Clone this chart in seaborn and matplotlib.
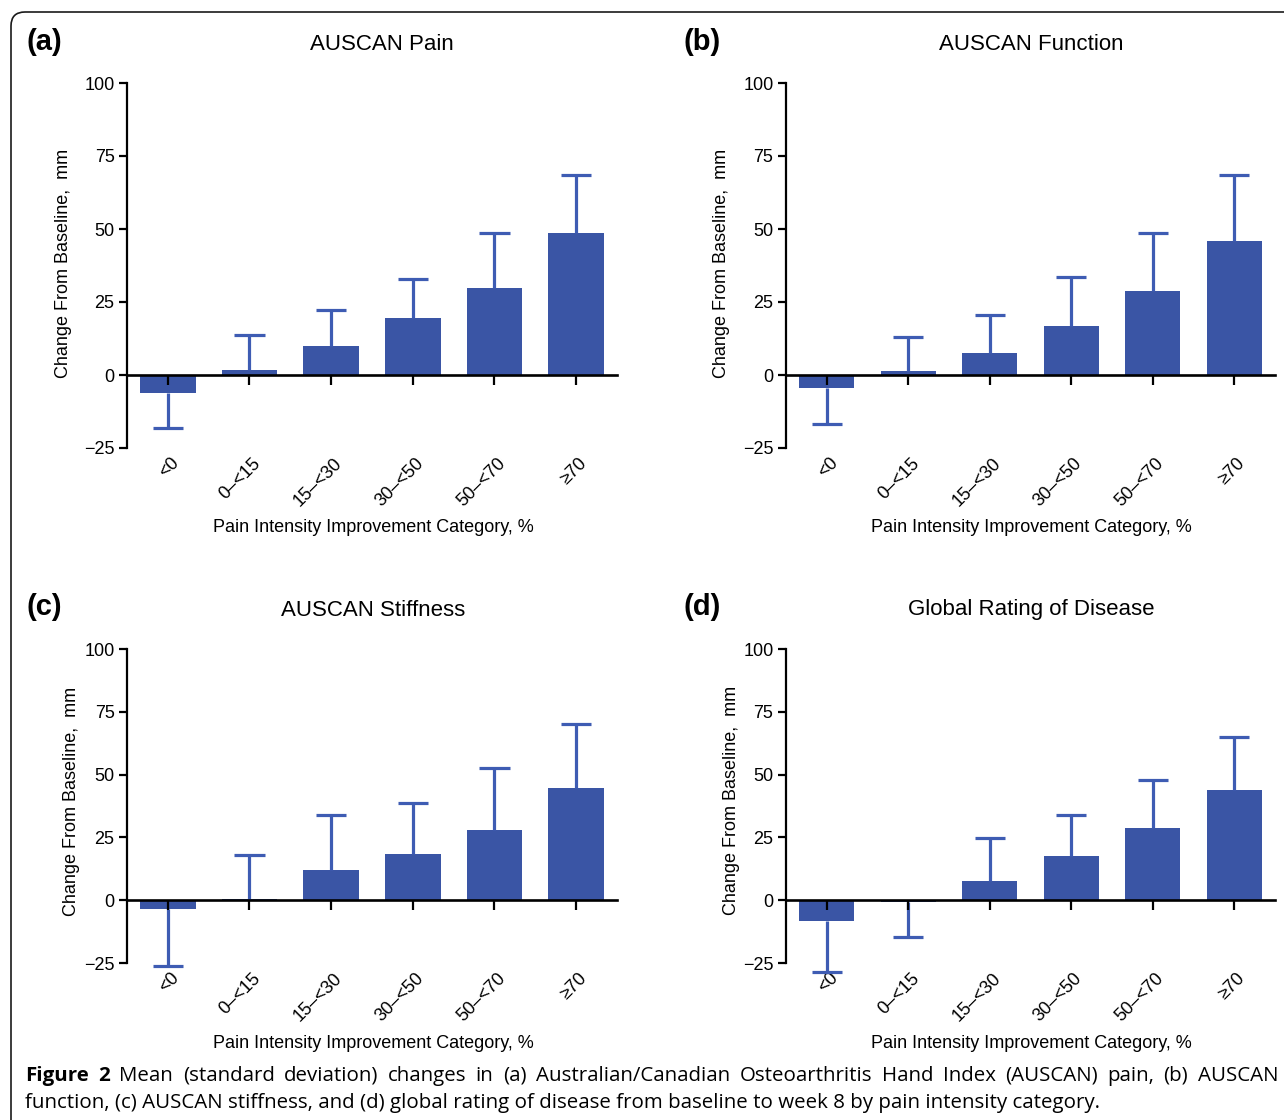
import numpy as np
import pandas as pd
import matplotlib
matplotlib.use("Agg")
import matplotlib.pyplot as plt
import seaborn as sns
from matplotlib.patches import FancyBboxPatch
from matplotlib import font_manager

# ---------------- data ----------------
categories = ["<0", "0\u2013<15", "15\u2013<30", "30\u2013<50", "50\u2013<70", "\u226570"]

pain_mean = [-6.0, 1.6, 9.8, 19.4, 29.7, 48.5]
pain_sd = [12.3, 12.0, 12.3, 13.6, 19.1, 19.9]

function_mean = [-4.3, 1.5, 7.6, 16.8, 28.8, 46.0]
function_sd = [12.6, 11.6, 13.1, 16.6, 19.7, 22.6]

stiffness_mean = [-3.5, 0.6, 12.0, 18.2, 28.1, 44.8]
stiffness_sd = [22.5, 17.3, 21.8, 20.6, 24.6, 25.3]

global_mean = [-8.4, -0.8, 7.7, 17.5, 28.9, 44.0]
global_sd = [20.0, 14.0, 17.0, 16.4, 19.0, 20.8]

titles = ["AUSCAN Pain", "AUSCAN Function", "AUSCAN Stiffness", "Global Rating of Disease"]
panel_letters = ["(a)", "(b)", "(c)", "(d)"]
y_ticks = [-25, 0, 25, 50, 75, 100]
y_label = "Change From Baseline,  mm"
x_label = "Pain Intensity Improvement Category, %"
caption_bold = "Figure 2"
caption_line1 = ("Mean (standard deviation) changes in (a) Australian/Canadian Osteoarthritis "
                 "Hand Index (AUSCAN) pain, (b) AUSCAN")
caption_line2 = ("function, (c) AUSCAN stiffness, and (d) global rating of disease from "
                 "baseline to week 8 by pain intensity category.")

# ---------------- style ----------------
sns.set_style("white")
plt.rcParams["font.family"] = ["Liberation Sans", "DejaVu Sans"]
plt.rcParams["text.color"] = "black"
plt.rcParams["axes.labelcolor"] = "black"
plt.rcParams["xtick.color"] = "black"
plt.rcParams["ytick.color"] = "black"

BAR = "#3a55a5"
ERR = "#3e5cb3"
W, H = 1284, 1120

fig = plt.figure(figsize=(W / 100, H / 100), dpi=100)
renderer = fig.canvas.get_renderer()


def fx(x):
    return x / W


def fy(y):
    return 1 - y / H


# axes rectangles in pixel coords: left, right, top(100), bottom(-25)
rects = [(127, 617, 83, 448), (786, 1275, 83, 448),
         (127, 617, 649, 963), (786, 1275, 649, 963)]
means = [pain_mean, function_mean, stiffness_mean, global_mean]
sds = [pain_sd, function_sd, stiffness_sd, global_sd]
title_pos = [(382, 44), (1031, 44), (373, 610), (1031, 610)]
letter_pos = [(26, 42), (684, 42), (26, 607), (684, 607)]
ylabel_pos = [(63, 263), (722, 263), (71, 801), (731, 800)]
xlabel_pos = [(373, 528), (1031, 528), (373, 1043), (1031, 1043)]

for i in range(4):
    l, r, t, b = rects[i]
    ax = fig.add_axes([fx(l), fy(b), (r - l) / W, (b - t) / H])
    df = pd.DataFrame({"cat": categories, "val": means[i]})
    sns.barplot(data=df, x="cat", y="val", order=categories, color=BAR,
                saturation=1, width=0.68, errorbar=None, linewidth=0,
                ax=ax, zorder=2)
    pos = np.arange(len(categories))
    m = np.array(means[i])
    s = np.array(sds[i])
    ends = m + np.sign(m) * s
    ax.vlines(pos, m, ends, color=ERR, lw=2.3, zorder=2.5, clip_on=False)
    ax.hlines(ends, pos - 0.185, pos + 0.185, color=ERR, lw=2.3, zorder=2.5, clip_on=False)

    ax.set_ylim(-25, 100)
    ax.set_xlim(-0.5, len(categories) - 0.5)
    ax.set_yticks(y_ticks)
    ax.set_yticklabels([f"\u2212{abs(v)}" if v < 0 else str(v) for v in y_ticks])
    ax.set_xlabel("")
    ax.set_ylabel("")
    for sp in ["top", "right", "bottom"]:
        ax.spines[sp].set_visible(False)
    ax.spines["left"].set_linewidth(1.6)
    ax.spines["left"].set_color("black")
    ax.tick_params(axis="y", length=6, width=1.6, direction="out", color="black",
                   labelsize=13, pad=3, left=True)
    ax.tick_params(axis="x", length=0, labelsize=13, pad=9, bottom=True)
    ax.set_xticks(pos)
    ax.set_xticklabels(categories)
    off = matplotlib.transforms.ScaledTranslation(6 / 72, 0, fig.dpi_scale_trans)
    for lab in ax.get_xticklabels():
        lab.set_rotation(45)
        lab.set_ha("right")
        lab.set_va("center")
        lab.set_rotation_mode("anchor")
        lab.set_transform(lab.get_transform() + off)

    zero_frac = (0 - (-25)) / (100 - (-25))
    sec = ax.secondary_xaxis(zero_frac)
    sec.set_xticks(pos)
    sec.set_xticklabels([])
    sec.tick_params(axis="x", length=7.5, width=1.6, color="black", direction="out")
    sec.spines["bottom"].set_linewidth(1.9)
    sec.spines["bottom"].set_color("black")
    sec.set_zorder(4)

    tx, ty = title_pos[i]
    fig.text(fx(tx), fy(ty), titles[i], ha="center", va="center", fontsize=16)
    lx, ly = letter_pos[i]
    fig.text(fx(lx), fy(ly), panel_letters[i], ha="left", va="center",
             fontsize=21, fontweight="bold")
    yx, yy = ylabel_pos[i]
    fig.text(fx(yx), fy(yy), y_label, ha="center", va="center", rotation=90, fontsize=13)
    xx, xy = xlabel_pos[i]
    fig.text(fx(xx), fy(xy), x_label, ha="center", va="center", fontsize=13)

# ---------------- caption ----------------
cap_family = ["Open Sans", "DejaVu Sans"]
try:
    font_manager.findfont("Liberation Sans Narrow", fallback_to_default=False)
    cap_family = ["Liberation Sans Narrow", "DejaVu Sans"]
except Exception:
    pass

probe = fig.text(0, 0, caption_line2, fontsize=12, family=cap_family)
w2 = probe.get_window_extent(renderer).width
probe.remove()
cap_size = 12 * (1095 - 25) / w2

x0 = 25
y1, y2 = 1076, 1103
words1 = [(w, "bold") for w in caption_bold.split()] + [(w, "normal") for w in caption_line1.split()]
widths = []
arts = []
for w, wt in words1:
    t = fig.text(0, fy(y1), w, fontsize=cap_size, family=cap_family, fontweight=wt,
                 ha="left", va="center")
    widths.append(t.get_window_extent(renderer).width)
    arts.append(t)
gap = (1278 - x0 - sum(widths)) / (len(words1) - 1)
cur = x0
for t, wd in zip(arts, widths):
    t.set_x(fx(cur))
    cur += wd + gap
fig.text(fx(x0), fy(y2), caption_line2, fontsize=cap_size, family=cap_family,
         ha="left", va="center")

# ---------------- border ----------------
border = FancyBboxPatch((11, -30), 1320, H - 12 + 30, boxstyle="round,pad=0,rounding_size=14",
                        transform=None, fill=False, ec="#1a1a1a", lw=1.2)
fig.add_artist(border)

fig.savefig("out.png", dpi=100)
